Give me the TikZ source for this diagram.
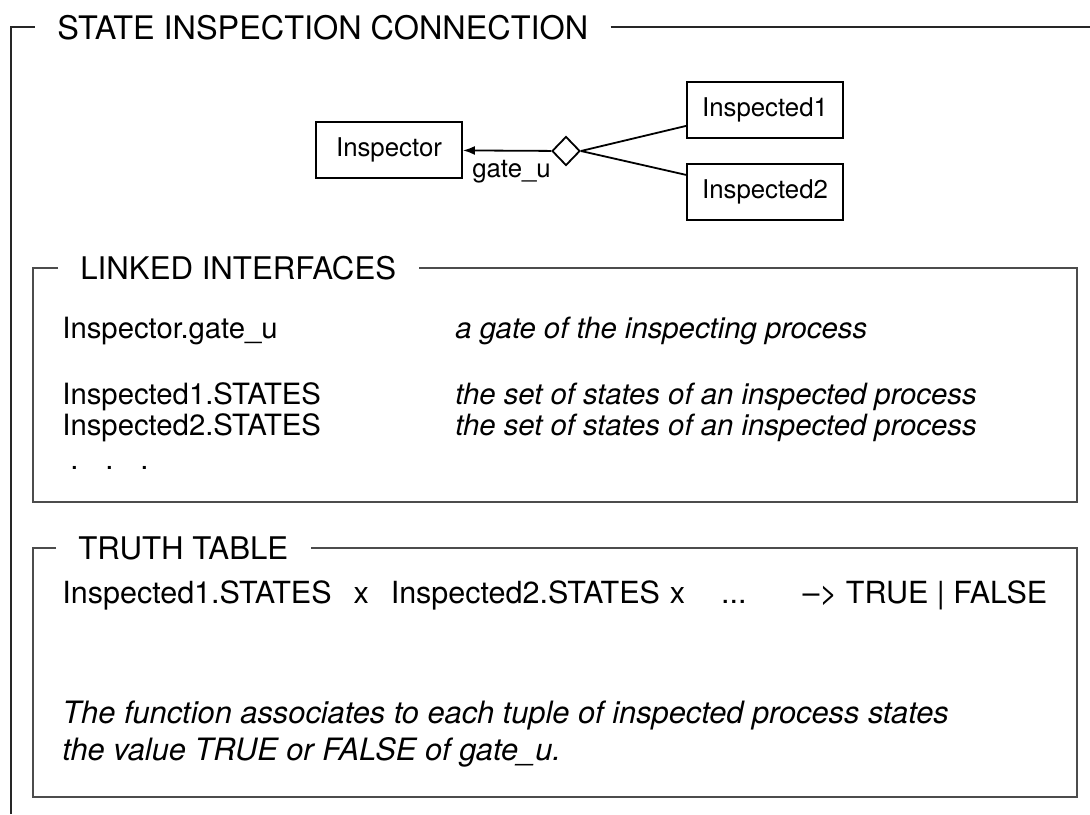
\documentclass[tikz,border=0pt]{standalone}
\usepackage{fontspec}
\setmainfont{TeX Gyre Heros}
\usetikzlibrary{arrows.meta,calc,positioning,shapes.geometric}

\begin{document}
\begin{tikzpicture}[
    x=0.5pt, y=-0.5pt,
    font=\fontsize{14.65}{17}\selectfont,
    txt/.style={inner sep=0pt, anchor=base west},
    desc/.style={txt, font=\fontsize{14.65}{17}\selectfont\itshape},
    note/.style={txt, font=\fontsize{15.4}{18}\selectfont\itshape},
    heading/.style={inner xsep=11pt, inner ysep=0pt, anchor=base west,
                    font=\fontsize{15.6}{18}\selectfont},
    frame/.style={draw=black!85, line width=0.7pt},
    panel/.style={draw=black!70, line width=1pt},
    proc/.style={draw, line width=0.9pt, minimum width=74pt, minimum height=28pt,
                 inner sep=0pt, font=\fontsize{12.9}{15}\selectfont},
    gate/.style={draw, diamond, line width=0.9pt, inner sep=0pt,
                 minimum width=14pt, minimum height=14.5pt},
    link/.style={line width=0.9pt},
    arrow/.style={-{Latex[length=6pt, width=4.5pt]}, line width=0.9pt}
]
\useasboundingbox (0,0) rectangle (1090,814);

\node[heading, font=\fontsize{16.2}{19}\selectfont] (main) at (35,39) {STATE INSPECTION CONNECTION};
\coordinate (mainfoot) at (11,814);
\coordinate (mainend) at (1090,0);
\draw[frame] (mainfoot) |- (main.west);
\draw[frame] (main.east) -- (main.east -| mainend);

\node[proc, minimum width=73pt] (inspector) at (389,150) {Inspector};
\node[proc, minimum width=78pt] (inspected1) at (765,110) {Inspected1};
\node[proc, minimum width=78pt, below=12pt of inspected1] (inspected2) {Inspected2};
\node[gate] (join) at (566,151) {};
\draw[arrow] (join) -- (inspector);
\draw[link] (join.east) -- ([yshift=6.5pt]inspected1.south west);
\draw[link] (join.east) -- ([yshift=-6pt]inspected2.north west);
\node[txt, font=\fontsize{12.9}{15}\selectfont] (gatename) at (472,177) {gate\_u};

\node[heading] (linked) at (58,279) {LINKED INTERFACES};
\coordinate (linkedsw) at (33,502);
\coordinate (linkedse) at (1077,502);
\draw[panel] (linked.west) -| (linkedsw) -- (linkedse) |- (linked.east);
\node[txt] (gateport) at (62,338) {Inspector.gate\_u};
\node[desc] (gatedesc) at (455,338) {a gate of the inspecting process};
\node[txt] (states1) at (62,404) {Inspected1.STATES};
\node[desc] (states1desc) at (455,404) {the set of states of an inspected process};
\node[txt] (states2) at (62,435) {Inspected2.STATES};
\node[desc] (states2desc) at (455,435) {the set of states of an inspected process};
\node[txt] (more) at (70,469) {.\hspace{13.4pt}.\hspace{13.4pt}.};

\node[heading] (truth) at (56,559) {TRUTH TABLE};
\coordinate (truthsw) at (33,797);
\coordinate (truthse) at (1077,797);
\draw[panel] (truth.west) -| (truthsw) -- (truthse) |- (truth.east);
\node[txt, font=\fontsize{15.25}{18}\selectfont] (mapping) at (62,603)
    {Inspected1.STATES\hspace{11pt}x\hspace{11pt}Inspected2.STATES\hspace{5pt}x\hspace{18pt}...\hspace{28pt}--> TRUE | FALSE};
\node[note] (func1) at (62,723) {The function associates to each tuple of inspected process states};
\node[note] (func2) at (62,760) {the value TRUE or FALSE of gate\_u.};
\end{tikzpicture}
\end{document}
